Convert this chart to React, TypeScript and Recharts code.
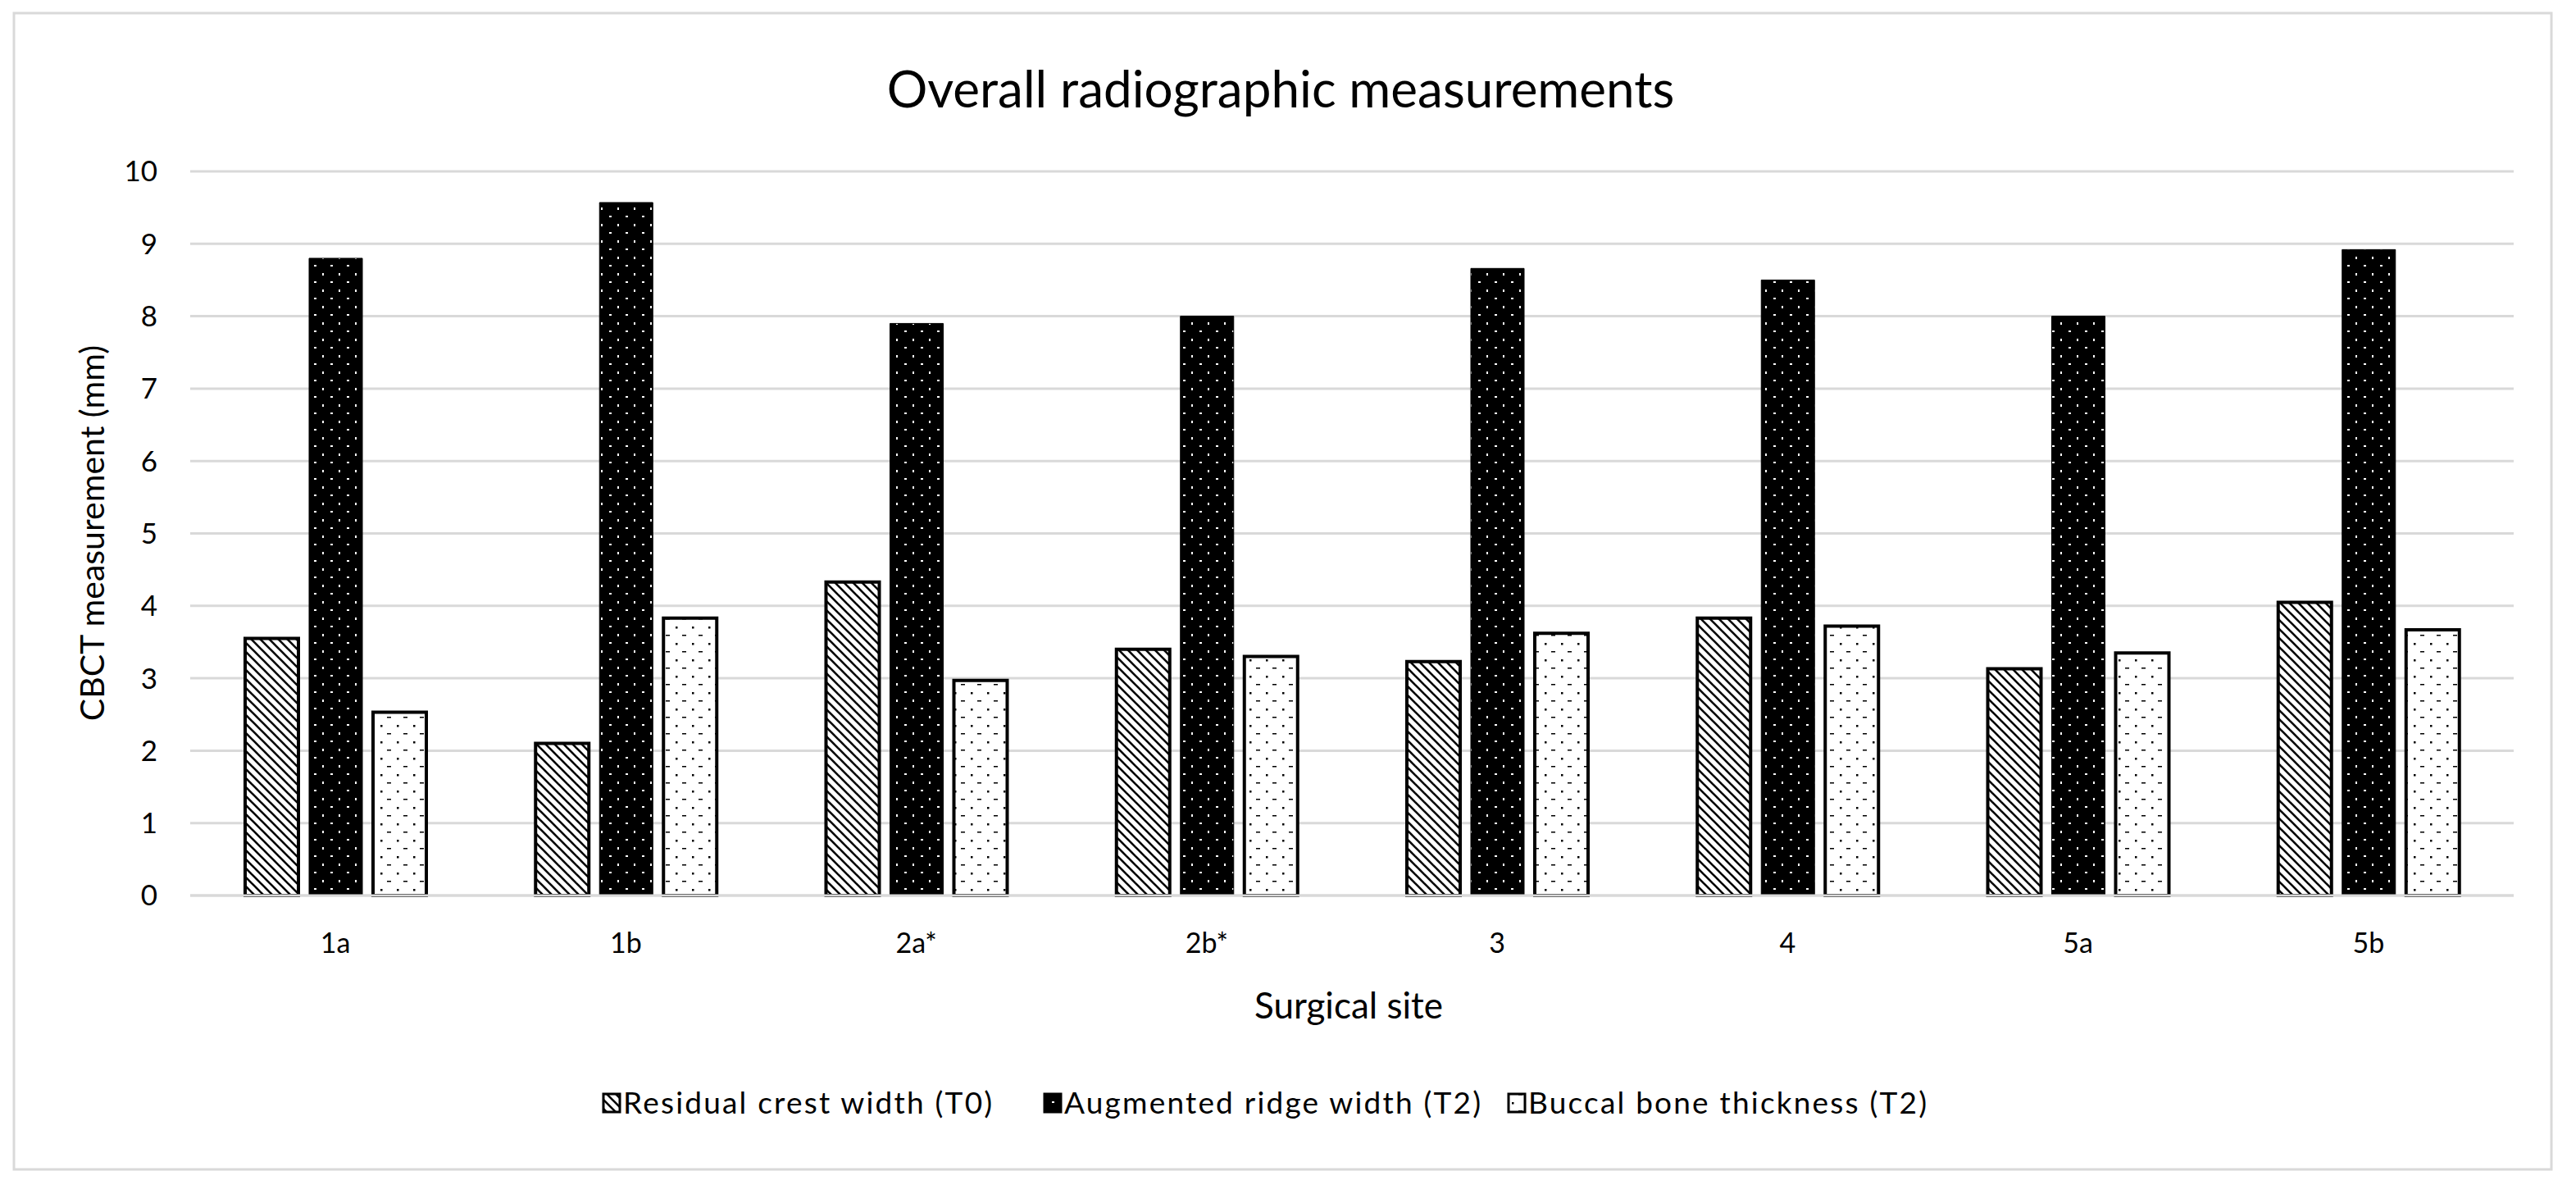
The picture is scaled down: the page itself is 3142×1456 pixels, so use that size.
import { BarChart, Bar, XAxis, YAxis, CartesianGrid } from "recharts";

const sites = ["1a", "1b", "2a*", "2b*", "3", "4", "5a", "5b"];
const residualCrest = [3.55, 2.1, 4.33, 3.4, 3.23, 3.83, 3.13, 4.05];
const augmentedRidge = [8.8, 9.57, 7.9, 8.0, 8.66, 8.5, 8.0, 8.92];
const buccalBone = [2.53, 3.83, 2.97, 3.3, 3.62, 3.72, 3.35, 3.67];
const yTicks = [0, 1, 2, 3, 4, 5, 6, 7, 8, 9, 10];
const seriesNames = [
  "Residual crest width (T0)",
  "Augmented ridge width (T2)",
  "Buccal bone thickness (T2)",
];

const data = sites.map((site, i) => ({
  site,
  residual: residualCrest[i],
  augmented: augmentedRidge[i],
  buccal: buccalBone[i],
}));

const FONT = "Lato, sans-serif";
const W = 3142;
const H = 1456;

const fills = ["url(#patResidual)", "url(#patAugmented)", "url(#patBuccal)"];
const legendX = [736, 1274, 1840];

export default function App() {
  return (
    <div style={{ position: "absolute", left: 0, top: 0, width: W, height: H, background: "#fff" }}>
      <BarChart
        width={W}
        height={H}
        data={data}
        margin={{ top: 209, right: 76, bottom: 334, left: 0 }}
        barSize={65}
        barGap={13}
      >
        <defs>
          <pattern id="patResidual" patternUnits="userSpaceOnUse" width="11" height="11">
            <rect width="11" height="11" fill="#fff" />
            <path d="M-2,-2 L13,13" stroke="#000" strokeWidth="2.6" />
            <path d="M-2,9 L2,13" stroke="#000" strokeWidth="2.6" />
            <path d="M9,-2 L13,2" stroke="#000" strokeWidth="2.6" />
          </pattern>
          <pattern id="patAugmented" patternUnits="userSpaceOnUse" width="20" height="20">
            <rect width="20" height="20" fill="#000" />
            <rect x="3" y="3" width="3" height="2" fill="#fff" />
            <rect x="13" y="13" width="2" height="3" fill="#fff" />
          </pattern>
          <pattern id="patBuccal" patternUnits="userSpaceOnUse" width="20" height="20">
            <rect width="20" height="20" fill="#fff" />
            <rect x="4" y="4" width="2.5" height="2.5" fill="#000" />
            <rect x="12" y="14" width="5" height="1.5" fill="#000" />
          </pattern>
        </defs>
        <CartesianGrid vertical={false} stroke="#d9d9d9" strokeWidth={3} />
        <XAxis
          dataKey="site"
          axisLine={{ stroke: "#d9d9d9", strokeWidth: 3 }}
          tickLine={false}
          tickSize={0}
          tickMargin={46}
          tick={{ fill: "#000", fontSize: 34, fontFamily: FONT }}
        />
        <YAxis
          width={232}
          domain={[0, 10]}
          ticks={yTicks}
          interval={0}
          axisLine={false}
          tickLine={false}
          tickSize={0}
          tickMargin={40}
          tick={{ fill: "#000", fontSize: 35, fontFamily: FONT }}
        />
        <Bar dataKey="residual" name={seriesNames[0]} fill={fills[0]} stroke="#000" strokeWidth={4} isAnimationActive={false} />
        <Bar dataKey="augmented" name={seriesNames[1]} fill={fills[1]} stroke="#000" strokeWidth={1} isAnimationActive={false} />
        <Bar dataKey="buccal" name={seriesNames[2]} fill={fills[2]} stroke="#000" strokeWidth={4} isAnimationActive={false} />
      </BarChart>

      <svg
        width={W}
        height={H}
        style={{ position: "absolute", left: 0, top: 0, pointerEvents: "none" }}
        fontFamily={FONT}
      >
        <rect x={17} y={16} width={3095} height={1410} fill="none" stroke="#d9d9d9" strokeWidth={3} />
        <text x={1562} y={131} textAnchor="middle" fontSize={62} fill="#000">
          Overall radiographic measurements
        </text>
        <text
          x={111}
          y={650}
          transform="rotate(-90 111 650)"
          textAnchor="middle"
          dominantBaseline="central"
          fontSize={41}
          fill="#000"
        >
          CBCT measurement (mm)
        </text>
        <text x={1645} y={1242} textAnchor="middle" fontSize={44} fill="#000">
          Surgical site
        </text>
        {seriesNames.map((name, i) => (
          <g key={name}>
            <rect x={legendX[i]} y={1334} width={20} height={22} fill={fills[i]} stroke="#000" strokeWidth={3} />
            <text x={legendX[i] + 24} y={1358} fontSize={37} letterSpacing={2.2} fill="#000">
              {name}
            </text>
          </g>
        ))}
      </svg>
    </div>
  );
}
